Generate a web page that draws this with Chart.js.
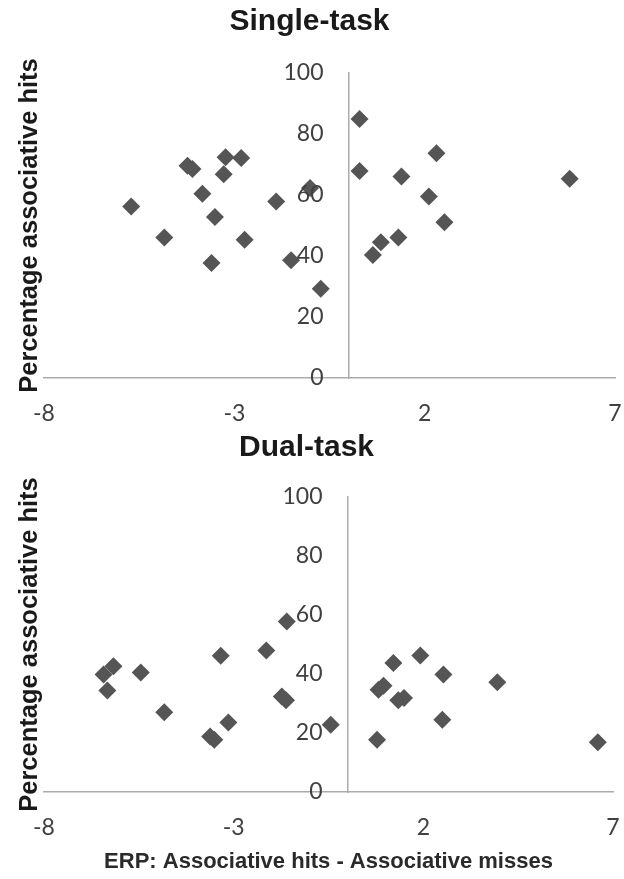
<!DOCTYPE html>
<html><head><meta charset="utf-8">
<script src="https://cdn.jsdelivr.net/npm/chart.js@4.4.1/dist/chart.umd.min.js"></script>
<style>
html,body{margin:0;padding:0;background:#fff;width:624px;height:879px;overflow:hidden}
canvas{position:absolute;left:0}
#c1{top:0}
#c2{top:430px}
</style></head><body>
<canvas id="c1" width="624" height="430"></canvas>
<canvas id="c2" width="624" height="449"></canvas>
<script>
const panelTitles = ['Single-task', 'Dual-task'];
const yAxisTitle = 'Percentage associative hits';
const xAxisTitle = 'ERP: Associative hits - Associative misses';
const xTickValues = [-8, -3, 2, 7];
const yTickValues = [0, 20, 40, 60, 80, 100];

const singleX = [-5.71, -4.84, -4.23, -4.10, -3.84, -3.51, -3.60, -3.23, -3.28, -2.82, -2.73, -1.90, -1.01, -1.51, -0.73, 0.29, 0.29, 0.64, 0.85, 1.31, 1.39, 2.11, 2.31, 2.52, 5.81];
const singleY = [56.2, 46.1, 69.6, 68.5, 60.4, 52.8, 37.7, 72.4, 66.8, 72.1, 45.3, 57.9, 62.3, 38.6, 29.3, 84.9, 67.9, 40.3, 44.5, 46.1, 66.1, 59.5, 73.7, 51.1, 65.3];

const dualX = [-6.43, -6.17, -6.33, -5.45, -4.83, -3.62, -3.51, -3.14, -3.34, -2.14, -1.60, -1.73, -1.62, -0.44, 0.78, 0.82, 0.95, 1.21, 1.92, 1.34, 1.49, 2.53, 2.50, 3.95, 6.60];
const dualY = [39.8, 42.6, 34.4, 40.5, 27.0, 18.8, 17.7, 23.6, 46.2, 48.0, 57.8, 32.4, 31.1, 22.8, 17.7, 34.7, 36.0, 43.7, 46.3, 31.1, 31.9, 39.8, 24.5, 37.2, 16.9];

const TITLE_FONT = "'Liberation Sans', Arial, sans-serif";
const TICK_FONT = "Lato, 'Liberation Sans', sans-serif";

// Places the y axis (line + labels) where x = 0 on the x scale
function moveYAxis(chart) {
  const y = chart.scales.y;
  const px = chart.scales.x.getPixelForValue(0);
  y.left = chart.chartArea.left;
  y.right = px;
  y._labelItems = null;
  y._gridLineItems = null;
}
const crossAtZero = {
  id: 'crossAtZero',
  afterLayout: moveYAxis,
  beforeDraw: moveYAxis
};

function makeChart(id, title, xs, ys, cfg) {
  const pts = xs.map((x, i) => ({x: x, y: ys[i]}));
  return new Chart(document.getElementById(id), {
    type: 'scatter',
    plugins: [crossAtZero],
    data: {datasets: [{
      data: pts,
      pointStyle: 'rectRot',
      pointRadius: 9,
      pointHoverRadius: 9,
      pointBorderWidth: 0,
      backgroundColor: '#555555',
      borderColor: '#555555'
    }]},
    options: {
      responsive: false,
      animation: false,
      events: [],
      layout: {padding: {left: 0, right: cfg.padRight, top: 0, bottom: 0}},
      plugins: {
        legend: {display: false},
        tooltip: {enabled: false},
        title: {
          display: true,
          text: title,
          color: '#1a1a1a',
          font: {family: TITLE_FONT, size: 30, weight: 'bold', lineHeight: 1.2},
          padding: {top: cfg.titleTop, bottom: cfg.titleBottom}
        }
      },
      scales: {
        x: {
          type: 'linear',
          position: 'bottom',
          min: -8, max: 7,
          afterBuildTicks: s => { s.ticks = xTickValues.map(v => ({value: v})); },
          afterFit: s => { s.height = cfg.xHeight; s.paddingLeft = 0; s.paddingRight = 0; },
          grid: {display: false, drawTicks: false},
          border: {display: true, color: '#ababab', width: 1.5},
          ticks: {
            padding: 22,
            color: '#404040',
            font: {family: TICK_FONT, size: 23},
            maxRotation: 0,
            autoSkip: false
          },
          title: {
            display: cfg.showXTitle,
            text: xAxisTitle,
            color: '#2a2a2a',
            font: {family: TITLE_FONT, size: 22, weight: 'bold', lineHeight: 1.2},
            padding: {top: 0, bottom: 4}
          }
        },
        y: {
          type: 'linear',
          position: 'left',
          min: 0, max: 100,
          afterBuildTicks: s => { s.ticks = yTickValues.map(v => ({value: v})); },
          afterFit: s => { s.width = 0; s.paddingTop = 0; s.paddingBottom = 0; },
          grid: {display: false, drawTicks: false},
          border: {display: true, color: '#ababab', width: 1.5},
          ticks: {
            padding: 25,
            z: 1,
            color: '#404040',
            autoSkip: false,
            font: {family: TICK_FONT, size: 23}
          }
        },
        yTitle: {
          type: 'linear',
          axis: 'y',
          position: 'left',
          weight: 10,
          min: 0, max: 100,
          afterFit: s => { s.width = 44; },
          grid: {display: false, drawTicks: false},
          border: {display: false},
          ticks: {display: false},
          title: {
            display: true,
            text: yAxisTitle,
            color: '#1a1a1a',
            font: {family: TITLE_FONT, size: 25.5, weight: 'bold', lineHeight: 1.2},
            padding: {top: 15, bottom: 0}
          }
        }
      }
    }
  });
}

makeChart('c1', panelTitles[0], singleX, singleY, {
  padRight: 5, titleTop: 4, titleBottom: 33, xHeight: 52, showXTitle: false
});
makeChart('c2', panelTitles[1], dualX, dualY, {
  padRight: 11, titleTop: 0, titleBottom: 31, xHeight: 87, showXTitle: true
});
</script>
</body></html>
